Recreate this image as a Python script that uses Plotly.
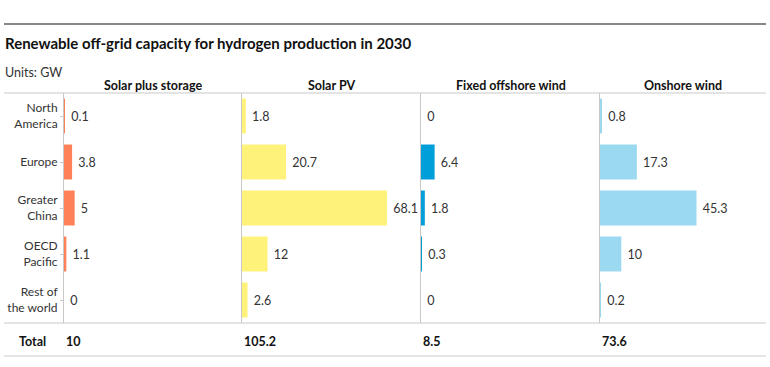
import plotly.graph_objects as go

regions = ["North<br>America", "Europe", "Greater<br>China", "OECD<br>Pacific", "Rest of<br>the world"]
series_names = ["Solar plus storage", "Solar PV", "Fixed offshore wind", "Onshore wind"]
solar_storage = [0.1, 3.8, 5, 1.1, 0]
solar_pv = [1.8, 20.7, 68.1, 12, 2.6]
offshore_wind = [0, 6.4, 1.8, 0.3, 0]
onshore_wind = [0.8, 17.3, 45.3, 10, 0.2]
totals = ["10", "105.2", "8.5", "73.6"]
colors = ["#FF8157", "#FFF27A", "#009FDA", "#9AD9F0"]

W, H = 770, 367
ML = 64
MT = 93
MB = H - 323
MR = W - 766
PW = W - ML - MR
PH = H - MT - MB
panel_px = [64, 242, 421, 600, 766]
px_per_unit = 2.13

FONT = "Lato"
TXT = "#333333"
FS = 12.5
TFS = 12


def xp(px):
    return (px - ML) / PW


def yp(py):
    return (H - MB - py) / PH


fig = go.Figure()
values = [solar_storage, solar_pv, offshore_wind, onshore_wind]
for i, (name, vals, col) in enumerate(zip(series_names, values, colors)):
    ax = "" if i == 0 else str(i + 1)
    fig.add_trace(go.Bar(
        x=vals, y=regions, orientation="h", name=name,
        marker=dict(color=col, line=dict(width=0)),
        width=0.76,
        text=[f" {v:g}" for v in vals], textposition="outside",
        textfont=dict(family=FONT, size=FS, color=TXT),
        cliponaxis=False,
        xaxis="x" + ax, yaxis="y" + ax,
        showlegend=False, hoverinfo="x+y",
    ))

layout = dict(
    width=W, height=H,
    margin=dict(l=ML, r=MR, t=MT, b=MB, autoexpand=False),
    plot_bgcolor="white", paper_bgcolor="white",
    font=dict(family=FONT, size=FS, color=TXT),
    uniformtext=dict(minsize=FS, mode="show"),
)
annotations = []
for i in range(4):
    ax = "" if i == 0 else str(i + 1)
    d0 = xp(panel_px[i])
    d1 = xp(panel_px[i + 1])
    rng = (panel_px[i + 1] - panel_px[i]) / px_per_unit
    layout["xaxis" + ax] = dict(domain=[d0, d1], range=[0, rng], visible=False,
                                fixedrange=True, automargin=False)
    yax = dict(
        categoryorder="array", categoryarray=regions, autorange="reversed",
        showline=True, linecolor="#C8C8C8", linewidth=1,
        showgrid=False, zeroline=False, fixedrange=True, automargin=False,
        anchor="x" + ax,
    )
    if i == 0:
        yax.update(ticks="outside", ticklen=3, tickcolor="#C8C8C8",
                   tickfont=dict(family=FONT, size=TFS, color=TXT))
    else:
        yax.update(showticklabels=False, ticks="")
    layout["yaxis" + ax] = yax
    # column header
    annotations.append(dict(
        x=(d0 + d1) / 2, y=yp(85), xref="paper", yref="paper",
        text=f"<b>{series_names[i]}</b>", showarrow=False,
        xanchor="center", yanchor="middle",
        font=dict(family=FONT, size=FS, color="#111111"),
    ))
    # totals
    annotations.append(dict(
        x=d0, y=yp(341), xref="paper", yref="paper",
        text=f"<b>{totals[i]}</b>", showarrow=False, xanchor="left", xshift=0,
        yanchor="middle", font=dict(family=FONT, size=FS, color="#111111"),
    ))

annotations.append(dict(
    x=xp(48), y=yp(341), xref="paper", yref="paper", text="<b>Total</b>",
    showarrow=False, xanchor="right", yanchor="middle",
    font=dict(family=FONT, size=FS, color="#111111"),
))
annotations.append(dict(
    x=xp(3), y=yp(43), xref="paper", yref="paper",
    text="<b>Renewable off-grid capacity for hydrogen production in 2030</b>",
    showarrow=False, xanchor="left", yanchor="middle",
    font=dict(family=FONT, size=15, color="#111111"),
))
annotations.append(dict(
    x=xp(3), y=yp(72), xref="paper", yref="paper", text="Units: GW",
    showarrow=False, xanchor="left", yanchor="middle",
    font=dict(family=FONT, size=FS, color=TXT),
))
layout["annotations"] = annotations

x_left = xp(4)
x_right = xp(766)
layout["shapes"] = [
    dict(type="line", xref="paper", yref="paper", x0=x_left, x1=x_right, y0=yp(24), y1=yp(24),
         line=dict(color="#111111", width=1.2)),
    dict(type="line", xref="paper", yref="paper", x0=x_left, x1=x_right, y0=yp(93), y1=yp(93),
         line=dict(color="#C8C8C8", width=1)),
    dict(type="line", xref="paper", yref="paper", x0=x_left, x1=x_right, y0=yp(323), y1=yp(323),
         line=dict(color="#C8C8C8", width=1)),
    dict(type="line", xref="paper", yref="paper", x0=x_left, x1=x_right, y0=yp(356), y1=yp(356),
         line=dict(color="#DDDDDD", width=1.5)),
]

fig.update_layout(**layout)
fig.write_html("out.html", config={"displayModeBar": False},
               post_script="document.body.style.margin='0';document.body.style.overflow='hidden';")
